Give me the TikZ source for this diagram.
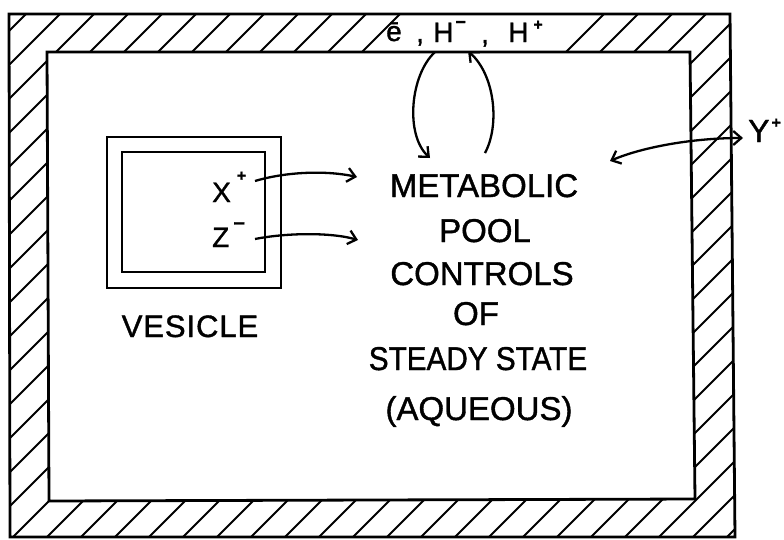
\documentclass[tikz,border=0pt]{standalone}
\usepackage{fontspec}
\setmainfont[FakeBold=1.2]{Liberation Sans}
\newfontfamily\lett[FakeBold=1.2]{Liberation Sans}
\newfontfamily\lettwide[LetterSpace=3,FakeBold=1.2]{Liberation Sans}
\newfontfamily\lettnarrow[FakeStretch=0.9,FakeBold=1.2]{Liberation Sans}
\usetikzlibrary{arrows.meta}
\newcommand\mysup[3]{\raisebox{#1}{\fontsize{#2}{#2}\selectfont\bfseries #3}}
\begin{document}
\begin{tikzpicture}[x=1pt,y=-1pt,
  wall/.style={line width=2.8pt, line join=miter},
  hatchline/.style={line width=1.8pt},
  vbox/.style={draw, line width=2.4pt, inner sep=0pt, outer sep=0pt},
  conn/.style={line width=2.3pt, -{Straight Barb[length=8pt,width=14pt]}},
  conn2/.style={line width=2.3pt, {Straight Barb[length=8pt,width=14pt]}-{Straight Barb[length=8pt,width=14pt]}},
  big/.style={font=\lett\fontsize{33}{36}\selectfont, inner sep=0pt, anchor=base},
  small/.style={font=\fontsize{28}{30}\selectfont, inner sep=0pt, anchor=base west}]
\useasboundingbox (0,0) rectangle (784,539);
% walls
\coordinate (o1) at (9,14);   \coordinate (o2) at (730,14);
\coordinate (o3) at (735,537); \coordinate (o4) at (10,537);
\coordinate (i1) at (47,52);  \coordinate (i2) at (690,52);
\coordinate (i3) at (695,499); \coordinate (i4) at (49,501);
\begin{scope}
  \clip (o1)--(o2)--(o3)--(o4)--cycle;
  \foreach \c in {40,74,...,1320} \draw[hatchline] (\c,0) -- ++(-600,600);
\end{scope}
\fill[white] (i1)--(i2)--(i3)--(i4)--cycle;
% gap in the hatching behind the top labels
\fill[white] (418,15) -- (588,15) -- (550,51) -- (380,51) -- cycle;
\draw[wall] (o1)--(o2)--(o3)--(o4)--cycle;
\draw[wall] (i1)--(i2)--(i3)--(i4)--cycle;
% vesicle
\node[vbox, minimum width=174pt, minimum height=151pt] (vesout) at (194,212.5) {};
\node[vbox, minimum width=143pt, minimum height=120pt] (vesin) at (193.5,212) {};
\node[big, font=\lettwide\fontsize{31}{34}\selectfont] (ves) at (190,337) {VESICLE};
\node[small] (xl) at (212,202) {X\kern6pt\mysup{21pt}{16}{+}};
\node[small] (zl) at (212,247) {Z\kern4pt\mysup{17pt}{20}{−}};
% metabolic pool text
\node[big] (m1) at (484,197) {METABOLIC};
\node[big] (m2) at (485,242) {POOL};
\node[big] (m3) at (482,285) {CONTROLS};
\node[big] (m4) at (476,325) {OF};
\node[big, font=\lettnarrow\fontsize{33}{36}\selectfont] (m5) at (478,370) {STEADY STATE};
\node[big] (m6) at (479,420) {(AQUEOUS)};
% top labels
\node[small] (t1) at (386,41) {ē};
\node[small] (t2) at (416,42) {,};
\node[small] (t3) at (433,42) {H\kern2pt\mysup{14pt}{18}{−}};
\node[small] (t4) at (481,43) {,};
\node[small] (t5) at (508,42) {H\kern5pt\mysup{12pt}{16}{+}};
% Y label
\node[small, font=\fontsize{32}{34}\selectfont] (yl) at (748,142) {Y\kern2pt\mysup{14pt}{16}{+}};
% connector ends
\coordinate (xa) at (255,181); \coordinate (xb) at (357,177);
\coordinate (za) at (255,239); \coordinate (zb) at (358,240);
\coordinate (ua) at (435,52);  \coordinate (ub) at (430,158);
\coordinate (va) at (485,153); \coordinate (vb) at (468,51);
\coordinate (ya) at (610,161); \coordinate (yb) at (743,138);
\draw[conn] (xa) .. controls (285,172) and (325,170) .. (xb);
\draw[conn] (za) .. controls (285,233) and (330,232) .. (zb);
\draw[conn] (ua) .. controls (410,75) and (405,135) .. (ub);
\draw[conn] (va) .. controls (500,125) and (495,75) .. (vb);
\draw[conn2] (ya) .. controls (640,148) and (690,138) .. (yb);
\end{tikzpicture}
\end{document}
